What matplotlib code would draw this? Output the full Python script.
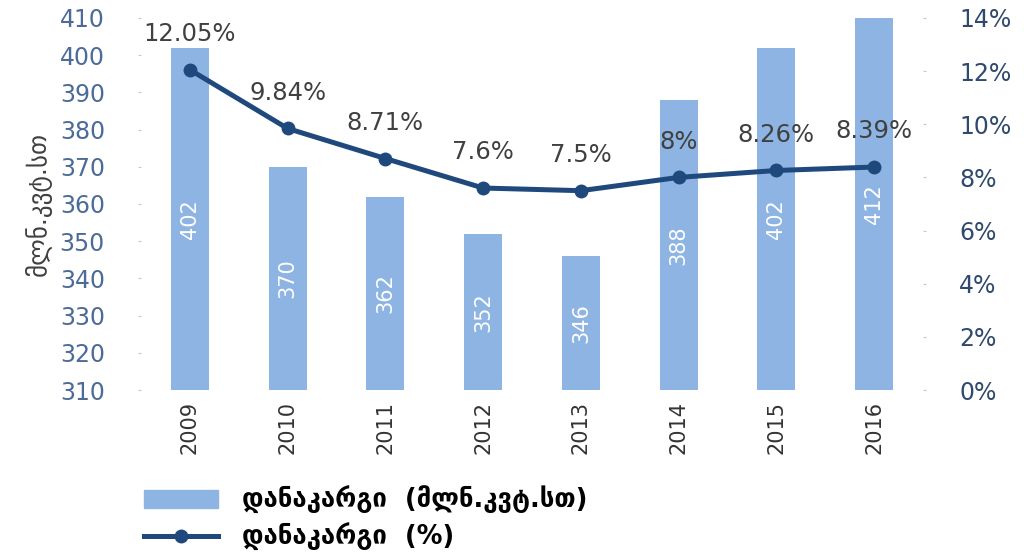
import numpy as np
import matplotlib.pyplot as plt
from matplotlib.lines import Line2D
from matplotlib.patches import Patch

plt.rcParams['font.family'] = ['DejaVu Sans']

years = ['2009', '2010', '2011', '2012', '2013', '2014', '2015', '2016']
loss_mwh = [402, 370, 362, 352, 346, 388, 402, 412]
loss_pct = [12.05, 9.84, 8.71, 7.6, 7.5, 8.0, 8.26, 8.39]
pct_labels = ['12.05%', '9.84%', '8.71%', '7.6%', '7.5%', '8%', '8.26%', '8.39%']

bar_color = '#8DB4E2'
line_color = '#1F497D'
text_color = '#404040'

fig = plt.figure(figsize=(10.24, 5.57), dpi=100)
ax = fig.add_axes([0.1377, 0.2998, 0.7637, 0.668])
ax2 = ax.twinx()

x = np.arange(len(years))
ymin, ymax = 310, 410
ax.bar(x, loss_mwh, width=0.39, color=bar_color, zorder=1)
ax.set_ylim(ymin, ymax)
ax.set_xlim(-0.5, 7.5)
ax.set_yticks(np.arange(310, 411, 10))
ax.set_xticks(x)
ax.set_xticklabels(years, rotation=90, fontsize=15, color='#333333')
ax.tick_params(axis='y', labelsize=17, labelcolor='#4d6b98', length=2,
               color='#c8c8c8', pad=24)
ax.tick_params(axis='x', length=0, pad=8)
ax.set_ylabel('მლნ.კვტ.სთ', fontsize=18, color=text_color, labelpad=6)

# values written inside the bars
for xi, v in zip(x, loss_mwh):
    mid = (ymin + min(v, ymax)) / 2
    ax.text(xi, mid, str(v), rotation=90, ha='center', va='center',
            color='white', fontsize=15)

ax2.plot(x, loss_pct, color=line_color, lw=3.6, marker='o', ms=9,
         solid_capstyle='round', zorder=3)
ax2.set_ylim(0, 14)
ax2.set_yticks(np.arange(0, 15, 2))
ax2.set_yticklabels([f'{t}%' for t in range(0, 15, 2)])
ax2.tick_params(axis='y', labelsize=17, labelcolor='#2f4a6e', length=2,
                color='#c8c8c8', pad=24)
for xi, v, lab in zip(x, loss_pct, pct_labels):
    ax2.annotate(lab, (xi, v), xytext=(0, 17), textcoords='offset points',
                 ha='center', va='bottom', fontsize=17.5, color=text_color)

for a in (ax, ax2):
    for s in a.spines.values():
        s.set_visible(False)

handles = [Patch(color=bar_color),
           Line2D([0], [0], color=line_color, lw=3.6, marker='o', ms=9)]
labels = ['დანაკარგი  (მლნ.კვტ.სთ)', 'დანაკარგი  (%)']
fig.legend(handles, labels, loc='lower left', bbox_to_anchor=(0.118, -0.03),
           frameon=False, prop={'size': 18.5, 'weight': 'bold'},
           handlelength=2.9, handleheight=0.7, handletextpad=0.9,
           labelspacing=0.35)

fig.savefig('out.png', dpi=100)
